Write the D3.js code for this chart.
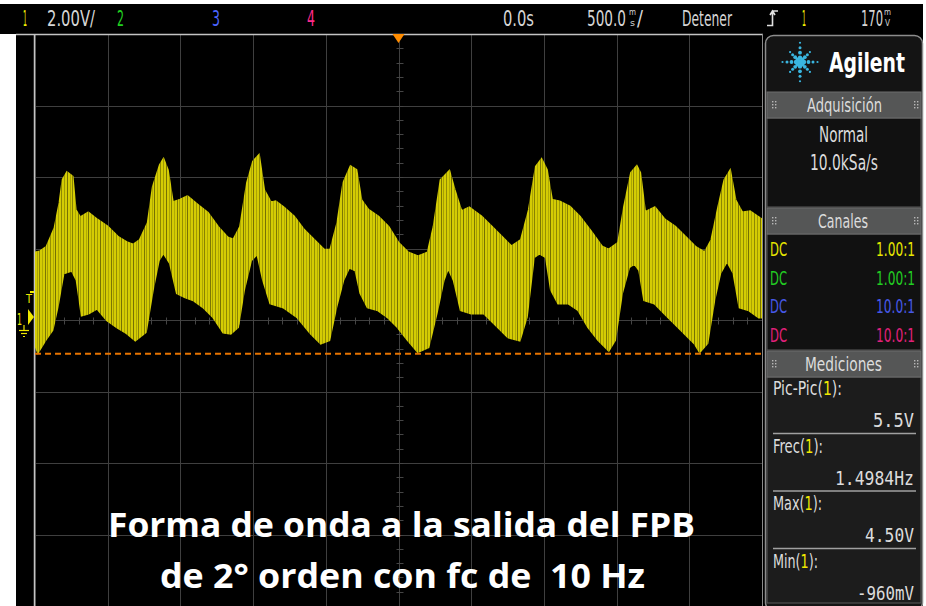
<!DOCTYPE html>
<html>
<head>
<meta charset="utf-8">
<script src="https://cdn.jsdelivr.net/npm/d3@7"></script>
<style>
  html, body { margin: 0; padding: 0; background: #fff; }
  svg { display: block; }
  text { font-family: "DejaVu Sans Condensed", "DejaVu Sans", sans-serif; }
</style>
</head>
<body>
<div id="scope"></div>
<script>
// Trace envelope: [time ms, volts]
const upperEnvelope = [
  [-2500,1.79],[-2466,1.82],[-2417,1.96],[-2362,2.49],[-2328,3.19],[-2307,3.83],[-2279,4.03],[-2245,3.92],
  [-2224,2.99],[-2190,2.77],[-2134,2.91],[-2072,2.71],[-2003,2.52],[-1934,2.24],[-1866,2.07],[-1824,2.01],
  [-1776,2.15],[-1721,2.63],[-1686,3.64],[-1638,4.25],[-1617,4.39],[-1590,4.11],[-1555,3.19],[-1500,3.27],
  [-1452,3.36],[-1383,3.13],[-1314,2.91],[-1245,2.52],[-1176,2.21],[-1134,2.15],[-1086,2.52],[-1038,3.75],
  [-997,4.34],[-962,4.50],[-928,3.55],[-879,3.19],[-845,3.22],[-790,3.05],[-721,2.80],[-652,2.43],
  [-583,2.15],[-514,1.87],[-466,1.87],[-417,2.63],[-376,3.75],[-328,4.20],[-293,4.11],[-259,3.27],
  [-210,2.99],[-141,2.80],[-72,2.52],[-3,2.07],[66,1.79],[134,1.68],[203,1.79],[245,2.52],
  [293,3.83],[348,4.06],[383,3.55],[431,2.94],[486,3.05],[569,2.80],[638,2.52],[707,2.24],
  [776,1.96],[845,2.15],[900,2.99],[948,4.20],[983,4.39],[1017,4.11],[1052,3.27],[1107,3.22],
  [1176,3.08],[1245,2.80],[1328,2.35],[1397,1.96],[1445,1.87],[1514,2.07],[1555,3.08],[1603,4.03],
  [1638,4.20],[1659,4.03],[1693,2.91],[1762,3.05],[1831,2.71],[1900,2.52],[1969,2.24],[2038,1.96],
  [2107,1.79],[2155,2.15],[2203,3.08],[2245,3.83],[2279,4.06],[2314,3.27],[2362,2.91],[2417,2.94],
  [2479,2.77],[2500,2.71]
];
const lowerEnvelope = [
  [-2500,-0.73],[-2479,-0.96],[-2431,-0.64],[-2383,-0.36],[-2348,0.28],[-2307,1.23],[-2245,1.31],[-2210,1.03],
  [-2176,0.06],[-2134,0.11],[-2072,0.25],[-2003,-0.08],[-1934,-0.28],[-1866,-0.45],[-1810,-0.64],[-1741,-0.42],
  [-1693,0.76],[-1652,1.59],[-1617,1.82],[-1569,1.51],[-1521,0.67],[-1466,0.56],[-1410,0.48],[-1341,0.28],
  [-1272,0.00],[-1203,-0.42],[-1155,-0.45],[-1107,-0.28],[-1066,0.76],[-1017,1.59],[-969,1.79],[-928,1.03],
  [-879,0.39],[-790,0.28],[-693,0.00],[-603,-0.45],[-534,-0.73],[-479,-0.64],[-431,0.28],[-383,1.03],
  [-341,1.40],[-293,1.31],[-259,0.67],[-210,0.28],[-141,0.20],[-72,0.00],[-3,-0.28],[66,-0.64],
  [134,-0.96],[203,-0.84],[259,0.11],[307,1.03],[341,1.40],[383,1.03],[431,0.20],[500,0.11],
  [590,0.11],[686,-0.28],[755,-0.56],[831,-0.64],[879,0.00],[928,1.68],[969,1.79],[1017,1.68],
  [1052,0.76],[1100,0.39],[1169,0.39],[1238,0.20],[1307,-0.28],[1376,-0.64],[1445,-0.92],[1486,-0.64],
  [1534,0.67],[1583,1.40],[1624,1.51],[1659,1.31],[1693,0.48],[1762,0.39],[1831,0.11],[1900,-0.17],
  [1969,-0.45],[2038,-0.73],[2072,-0.96],[2121,-0.73],[2169,0.48],[2210,1.23],[2259,1.59],[2307,1.23],
  [2348,0.28],[2410,0.20],[2479,0.00],[2500,0.00]
];

// Screen setup
const timeGrid = [-2500, -2000, -1500, -1000, -500, 0, 500, 1000, 1500, 2000, 2500];
const voltDivisions = [-4, -3, -2, -1, 0, 1, 2, 3, 4];
const voltsPerDiv = 2;
const centerVolts = -0.084;   // ground sits a hair above the center line
const triggerLevel = -1.03;   // orange dashed line

const topBar = [
  { text: "1", x0: 23, x1: 27, color: "#f0f000" },
  { text: "2.00V/", x0: 47, x1: 95, color: "#d6d6d6" },
  { text: "2", x0: 117, x1: 124, color: "#20d020" },
  { text: "3", x0: 212, x1: 220, color: "#4a64ff" },
  { text: "4", x0: 307, x1: 315, color: "#ff2a8a" },
  { text: "0.0s", x0: 503, x1: 534, color: "#d6d6d6" },
  { text: "500.0", x0: 587, x1: 626, color: "#d6d6d6" },
  { text: "/", x0: 637, x1: 643, color: "#d6d6d6" },
  { text: "Detener", x0: 682, x1: 732, color: "#d6d6d6" },
  { text: "1", x0: 802, x1: 806, color: "#f0f000" },
  { text: "170", x0: 861, x1: 883, color: "#d6d6d6" }
];

const channels = [
  { coupling: "DC", probe: "1.00:1", color: "#e6e600" },
  { coupling: "DC", probe: "1.00:1", color: "#22cc22" },
  { coupling: "DC", probe: "10.0:1", color: "#4658e6" },
  { coupling: "DC", probe: "10.0:1", color: "#e0207a" }
];

const measurements = [
  { name: "Pic-Pic", value: "5.5V" },
  { name: "Frec", value: "1.4984Hz" },
  { name: "Max", value: "4.50V" },
  { name: "Min", value: "-960mV" }
];

const captionLines = ["Forma de onda a la salida del FPB", "de 2\u00b0 orden con fc de  10 Hz"];

const W = 926, H = 606;
const plot = { left: 35, right: 762, top: 34, bottom: 606 };

const svg = d3.select("#scope").append("svg")
  .attr("width", W)
  .attr("height", H);

const x = d3.scaleLinear()
  .domain([-2500, 2500])
  .range([plot.left, plot.right]);

const y = d3.scaleLinear()
  .domain([centerVolts - 4 * voltsPerDiv, centerVolts + 4 * voltsPerDiv])
  .range([plot.bottom, plot.top]);

// text squeezed into a measured width, like the scope's narrow font
function fitText(g, str, x0, x1, baseline, size, color, weight) {
  return g.append("text")
    .attr("x", x0)
    .attr("y", baseline)
    .attr("textLength", x1 - x0)
    .attr("lengthAdjust", "spacingAndGlyphs")
    .style("font-size", size + "px")
    .style("font-weight", weight || "normal")
    .attr("fill", color)
    .text(str);
}
// same, but anchored at the right edge
function fitTextEnd(g, str, x0, x1, baseline, size, color) {
  return fitText(g, str, x1, x1 + (x1 - x0), baseline, size, color)
    .attr("text-anchor", "end");
}

// backgrounds
svg.append("rect").attr("width", W).attr("height", H).attr("fill", "#fff");
svg.append("rect").attr("x", 0).attr("y", 4).attr("width", 923).attr("height", 30).attr("fill", "#000");
svg.append("rect").attr("x", 16).attr("y", 33).attr("width", 907).attr("height", H - 33).attr("fill", "#000");

// ---- plot grid
const grid = svg.append("g");

grid.selectAll("line.vgrid").data(timeGrid).enter()
  .append("line")
  .attr("class", "vgrid")
  .attr("x1", d => Math.round(x(d)) + 0.5)
  .attr("x2", d => Math.round(x(d)) + 0.5)
  .attr("y1", plot.top)
  .attr("y2", plot.bottom)
  .attr("stroke", "#3f3f3f");

grid.selectAll("line.hgrid").data(voltDivisions).enter()
  .append("line")
  .attr("class", "hgrid")
  .attr("x1", plot.left)
  .attr("x2", plot.right)
  .attr("y1", d => Math.round(y(centerVolts + d * voltsPerDiv)) + 0.5)
  .attr("y2", d => Math.round(y(centerVolts + d * voltsPerDiv)) + 0.5)
  .attr("stroke", "#3f3f3f");

// minor ticks on the two center lines
const cx = Math.round(x(0)) + 0.5;
const cy = Math.round(y(centerVolts)) + 0.5;
grid.selectAll("line.tx").data(d3.range(-2500, 2501, 100)).enter()
  .append("line")
  .attr("x1", d => Math.round(x(d)) + 0.5)
  .attr("x2", d => Math.round(x(d)) + 0.5)
  .attr("y1", cy - 3).attr("y2", cy + 4)
  .attr("stroke", "#454545");
grid.selectAll("line.ty").data(d3.range(-20, 21).map(k => centerVolts + k * voltsPerDiv / 5)).enter()
  .append("line")
  .attr("x1", cx - 3).attr("x2", cx + 4)
  .attr("y1", d => Math.round(y(d)) + 0.5)
  .attr("y2", d => Math.round(y(d)) + 0.5)
  .attr("stroke", "#454545");

// plot border
grid.append("line").attr("x1", 16).attr("x2", plot.right + 1).attr("y1", 34.5).attr("y2", 34.5)
  .attr("stroke", "#c4c4c4").attr("stroke-width", 1.5);
grid.append("line").attr("x1", plot.left - 0.5).attr("x2", plot.left - 0.5).attr("y1", 34).attr("y2", H)
  .attr("stroke", "#c4c4c4").attr("stroke-width", 1.5);
grid.append("line").attr("x1", plot.right + 0.5).attr("x2", plot.right + 0.5).attr("y1", 34).attr("y2", H)
  .attr("stroke", "#8a8a8a");

// ---- trace
const defs = svg.append("defs");
defs.append("clipPath").attr("id", "plotClip")
  .append("rect")
  .attr("x", plot.left).attr("y", plot.top)
  .attr("width", plot.right - plot.left).attr("height", plot.bottom - plot.top);

// irregular vertical streaks of the sampled carrier
const streakCols = [
  [1, 0.8], [4, 0.35], [6, 0.65], [9, 0.3], [12, 0.75], [14, 0.4],
  [17, 0.55], [20, 0.3], [22, 0.8], [25, 0.35], [28, 0.6], [31, 0.45]
];
const pat = defs.append("pattern")
  .attr("id", "streaks")
  .attr("patternUnits", "userSpaceOnUse")
  .attr("width", 33).attr("height", 60);
pat.append("rect").attr("width", 33).attr("height", 60).attr("fill", "#d4cc04");
pat.selectAll("rect.s").data(streakCols).enter()
  .append("rect")
  .attr("x", d => d[0])
  .attr("width", 1)
  .attr("height", 60)
  .attr("fill", "#2c2900")
  .attr("opacity", d => d[1] * 0.7);

const band = upperEnvelope.concat(lowerEnvelope.slice().reverse());
const line = d3.line()
  .x(d => x(d[0]))
  .y(d => y(d[1]));

const trace = svg.append("g").attr("clip-path", "url(#plotClip)");
trace.append("path")
  .attr("d", line(band) + "Z")
  .attr("fill", "url(#streaks)")
  .attr("stroke", "url(#streaks)")
  .attr("stroke-width", 3);

// trigger level
svg.append("line")
  .attr("x1", plot.left).attr("x2", plot.right)
  .attr("y1", y(triggerLevel)).attr("y2", y(triggerLevel))
  .attr("stroke", "#e67300")
  .attr("stroke-width", 2)
  .attr("stroke-dasharray", "6,4");

// trigger position marker
svg.append("path")
  .attr("d", `M${x(0) - 6},${plot.top} L${x(0) + 6},${plot.top} L${x(0)},${plot.top + 9} Z`)
  .attr("fill", "#ff8c00");

// channel 1 markers at the left edge
const mk = svg.append("g").attr("fill", "#f0e800").attr("stroke", "#f0e800");
mk.append("line").attr("x1", 30).attr("x2", 34).attr("y1", 292).attr("y2", 292).attr("stroke-width", 2);
fitText(mk, "T", 26, 32, 303, 12, "#f0e800").attr("stroke", "none");
fitText(mk, "1", 17, 22, 325, 15, "#f0e800").attr("stroke", "none");
mk.append("path").attr("d", `M28,${y(0) - 8} L34,${y(0)} L28,${y(0) + 8} Z`).attr("stroke", "none");
mk.append("line").attr("x1", 24).attr("x2", 24).attr("y1", 325).attr("y2", 330).attr("stroke-width", 1.2);
mk.append("line").attr("x1", 19).attr("x2", 29).attr("y1", 330.5).attr("y2", 330.5).attr("stroke-width", 1.2);
mk.append("line").attr("x1", 21).attr("x2", 27).attr("y1", 333.5).attr("y2", 333.5).attr("stroke-width", 1.2);
mk.append("line").attr("x1", 23).attr("x2", 25).attr("y1", 336.5).attr("y2", 336.5).attr("stroke-width", 1.2);

// ---- top status bar
const bar = svg.append("g");
topBar.forEach(d => fitText(bar, d.text, d.x0, d.x1, 26, 22, d.color));
// stacked unit glyphs
fitText(bar, "m", 629, 636, 15, 8, "#d6d6d6");
fitText(bar, "s", 630, 635, 26, 8, "#d6d6d6");
fitText(bar, "m", 884, 891, 15, 8, "#d6d6d6");
fitText(bar, "V", 885, 890, 26, 8, "#d6d6d6");
// rising edge symbol
bar.append("path")
  .attr("d", "M767,25.5 H772.5 V11 H778 M770,15 L772.5,11 L775,15")
  .attr("fill", "none").attr("stroke", "#e0e0e0").attr("stroke-width", 1.6);

// ---- right side panel
const panel = svg.append("g");
panel.append("rect")
  .attr("x", 765.5).attr("y", 35.5).attr("width", 157).attr("height", 575).attr("rx", 8)
  .attr("fill", "#141414").attr("stroke", "#8c8c8c").attr("stroke-width", 1.5);

// Agilent spark logo
const logo = panel.append("g").attr("transform", "translate(800,62)").attr("fill", "#3ab6e0");
d3.range(8).forEach(i => {
  const a = i * Math.PI / 4;
  const reach = i % 2 === 0 ? 1 : 0.8;
  [[4, 2.2], [8.5, 1.9], [13, 1.5], [17.5, 1.1]].forEach(([r, s]) => {
    logo.append("circle")
      .attr("cx", Math.cos(a) * r * reach)
      .attr("cy", Math.sin(a) * r * reach * (i % 4 === 2 ? 1.1 : 1))
      .attr("r", s);
  });
});
logo.append("circle").attr("r", 2.4);
fitText(panel, "Agilent", 829, 905, 72, 26, "#ffffff", "bold");

// section headers
function header(yTop, label, x0, x1) {
  panel.append("rect")
    .attr("x", 767).attr("y", yTop).attr("width", 154).attr("height", 26)
    .attr("fill", "#555656").attr("stroke", "#6c6c6c");
  [772, 914].forEach(gx => {
    [0, 1].forEach(c => [0, 1, 2].forEach(r => {
      panel.append("rect")
        .attr("x", gx + c * 3).attr("y", yTop + 9 + r * 3)
        .attr("width", 1.4).attr("height", 1.4)
        .attr("fill", "#b8b8b8");
    }));
  });
  fitText(panel, label, x0, x1, yTop + 20, 19, "#dcdcdc");
}

panel.append("rect").attr("x", 767).attr("y", 118).attr("width", 154).attr("height", 89)
  .attr("fill", "#111").attr("stroke", "#5a5a5a");
panel.append("rect").attr("x", 767).attr("y", 234).attr("width", 154).attr("height", 116)
  .attr("fill", "#111").attr("stroke", "#5a5a5a");
panel.append("rect").attr("x", 767).attr("y", 377).attr("width", 154).attr("height", 226)
  .attr("fill", "#1c1c1c").attr("stroke", "#5a5a5a");

header(92, "Adquisición", 807, 882);
fitText(panel, "Normal", 819, 868, 142, 21, "#dcdcdc");
fitText(panel, "10.0kSa/s", 810, 878, 170, 21, "#dcdcdc");

header(208, "Canales", 818, 868);
channels.forEach((c, i) => {
  const base = 256 + i * 28.7;
  fitText(panel, c.coupling, 770, 787, base, 20, c.color);
  fitTextEnd(panel, c.probe, 876, 915, base, 20, c.color);
});

header(351, "Mediciones", 805, 882);
const nameWidths = [69, 50, 49, 45];
const valueWidths = [41, 79, 49, 57];
measurements.forEach((m, i) => {
  const base = 395 + i * 57.5;
  const w = nameWidths[i];
  const t = panel.append("text")
    .attr("x", 773).attr("y", base)
    .attr("textLength", w).attr("lengthAdjust", "spacingAndGlyphs")
    .style("font-size", "20px")
    .attr("fill", "#dcdcdc");
  t.append("tspan").text(m.name + "(");
  t.append("tspan").attr("fill", "#f0e800").text("1");
  t.append("tspan").text("):");
  fitTextEnd(panel, m.value, 914 - valueWidths[i], 914, base + 32, 19, "#dcdcdc")
    .style("font-family", "'DejaVu Sans Mono', monospace");
  if (i < measurements.length - 1) {
    panel.append("line")
      .attr("x1", 773).attr("x2", 916)
      .attr("y1", base + 38.5).attr("y2", base + 38.5)
      .attr("stroke", "#a0a0a0").attr("stroke-width", 1.5);
  }
});

// ---- caption over the screen
const cap = svg.append("g");
fitText(cap, captionLines[0], 108, 695, 537, 34, "#ffffff", "bold")
  .style("font-family", "'Open Sans', sans-serif");
fitText(cap, captionLines[1], 160, 645, 588, 34, "#ffffff", "bold")
  .style("font-family", "'Open Sans', sans-serif")
  .style("white-space", "pre");
</script>
</body>
</html>
